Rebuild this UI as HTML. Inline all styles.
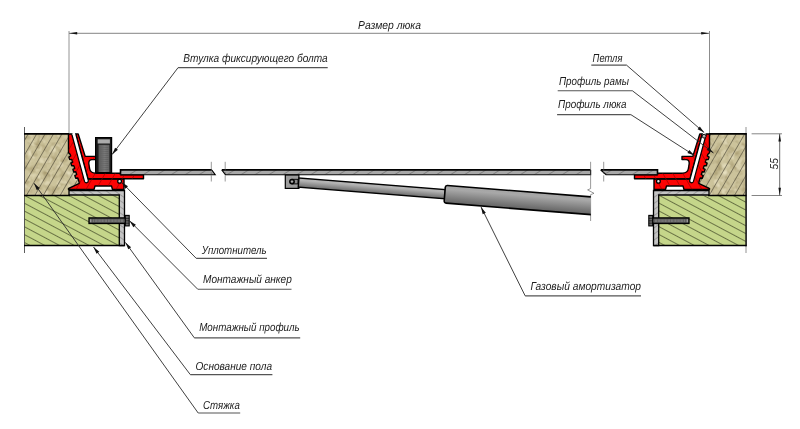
<!DOCTYPE html>
<html lang="ru"><head><meta charset="utf-8"><title>Люк — схема</title>
<style>
html,body{margin:0;padding:0;background:#fff;}
body{width:800px;height:429px;overflow:hidden;font-family:"Liberation Sans",sans-serif;}
svg{display:block;will-change:transform;opacity:0.999;}
</style></head><body>
<svg width="800" height="429" viewBox="0 0 800 429">
<defs>
<pattern id="hScreed" width="7.3" height="7.3" patternUnits="userSpaceOnUse" patternTransform="translate(35.5,135) rotate(30)">
<line x1="0" y1="-1" x2="0" y2="9" stroke="#2b281c" stroke-width="0.95"/>
</pattern>
<pattern id="hBase" width="6.93" height="6.93" patternUnits="userSpaceOnUse" patternTransform="translate(24.5,202.7) rotate(28)">
<line x1="-1" y1="0" x2="8" y2="0" stroke="#1e220c" stroke-width="1.1"/>
</pattern>
<pattern id="hGray" width="5" height="5" patternUnits="userSpaceOnUse" patternTransform="rotate(35)">
<line x1="-1" y1="0" x2="6" y2="0" stroke="#555" stroke-width="0.7"/>
</pattern>
<pattern id="hPlate" width="7.4" height="7.4" patternUnits="userSpaceOnUse" patternTransform="translate(3,0) rotate(58)">
<line x1="0" y1="-1" x2="0" y2="9" stroke="#3c3c3c" stroke-width="0.7"/>
</pattern>
<filter id="mottle" x="0" y="0" width="100%" height="100%">
<feTurbulence type="fractalNoise" baseFrequency="0.14" numOctaves="2" seed="7" result="n"/>
<feColorMatrix in="n" type="matrix" values="0 0 0 0 0  0 0 0 0 0  0 0 0 0 0  2.2 0 0 0 -0.95" result="a"/>
<feFlood flood-color="#a89b70" result="c"/>
<feComposite in="c" in2="a" operator="in" result="dark"/>
<feColorMatrix in="n" type="matrix" values="0 0 0 0 0  0 0 0 0 0  0 0 0 0 0  0 -2.4 0 0 1.15" result="b"/>
<feFlood flood-color="#ece5c6" result="c2"/>
<feComposite in="c2" in2="b" operator="in" result="light"/>
<feMerge result="m"><feMergeNode in="SourceGraphic"/><feMergeNode in="dark"/><feMergeNode in="light"/></feMerge>
<feComposite in="m" in2="SourceAlpha" operator="in"/>
</filter>
<linearGradient id="gRod" gradientUnits="userSpaceOnUse" x1="0" y1="-4.5" x2="0" y2="4.5">
<stop offset="0" stop-color="#b2b2b2"/><stop offset="0.25" stop-color="#b4b4b4"/><stop offset="1" stop-color="#6c6c6c"/>
</linearGradient>
<linearGradient id="gCyl" gradientUnits="userSpaceOnUse" x1="0" y1="-9" x2="0" y2="9">
<stop offset="0" stop-color="#a4a4a4"/><stop offset="0.22" stop-color="#a8a8a8"/><stop offset="1" stop-color="#626262"/>
</linearGradient>
<linearGradient id="gThread" x1="0" y1="0" x2="1" y2="0">
<stop offset="0" stop-color="#5e5e5e"/><stop offset="0.55" stop-color="#7c7c7c"/><stop offset="1" stop-color="#646464"/>
</linearGradient>
<clipPath id="clipRedL">
<path d="M68.5,134 L78.6,134 L84.8,156.4 L95,156.4 L95,160 L88.3,160 L89.8,168 Q90.6,172.6 95,173 L120.5,173 L120.5,174.7 L143.5,174.7 L143.5,178.8 L124,179 L124,189.5 L112.5,189.5 L111.5,186 L95,186 L94,189.5 L68.5,189.5 L68.5,188.4 L79.4,183.4 L70.3,154.6 L68.5,152.8 Z"/>
</clipPath>
</defs>
<rect width="800" height="429" fill="#fff"/>


<!-- left screed -->
<polygon points="71,133.8 24.5,133.8 24.5,195.5 71,195.5 71,189.5 81,184.5 81,172 74,150" fill="#ccc39b" filter="url(#mottle)"/>
<polygon points="71,133.8 24.5,133.8 24.5,195.5 71,195.5 71,189.5 81,184.5 81,172 74,150" fill="url(#hScreed)"/>
<!-- left base -->
<rect x="24.5" y="195.3" width="95" height="50.2" fill="#c5d68a"/>
<rect x="24.5" y="195.3" width="95" height="50.2" fill="url(#hBase)"/>
<line x1="24.5" y1="127" x2="24.5" y2="253" stroke="#333" stroke-width="0.8"/>
<line x1="24" y1="133.8" x2="69" y2="133.8" stroke="#000" stroke-width="1.7"/>
<line x1="24" y1="195.5" x2="70" y2="195.5" stroke="#000" stroke-width="1.4"/>
<line x1="24" y1="245.5" x2="124.5" y2="245.5" stroke="#000" stroke-width="1.5"/>
<!-- mounting profile -->
<path d="M69,190.5 L124.5,190.5 L124.5,245.5 L119.3,245.5 L119.3,195 L69,195 Z" fill="#c4c4c4" stroke="none"/>
<path d="M69,190.5 L124.5,190.5 L124.5,245.5 L119.3,245.5 L119.3,195 L69,195 Z" fill="url(#hGray)" stroke="#000" stroke-width="1.3"/>


<!-- frame profile (outer) -->
<path d="M68.5,134 L75,134 L88,179 L124,179 L124,189.5 L112.5,189.5 L111.5,186 L95,186 L94,189.5 L68.5,189.5 L68.5,188.4 L69.2,188.2 L79.4,183.4 L78.6,180.3 L77.8,178.0 L75.7,178.2 L74.8,175.6 L76.7,174.5 L75.8,171.8 L73.7,172.0 L72.9,169.4 L74.7,168.3 L73.8,165.6 L71.7,165.8 L70.9,163.2 L72.7,162.1 L71.9,159.5 L69.7,159.6 L68.9,157.1 L70.7,155.9 L70.3,154.6 L68.5,152.8 Z" fill="#fc0404" stroke="#000" stroke-width="1.4" stroke-linejoin="round"/>
<!-- hatch profile (inner) -->
<path d="M75.77,134 L78.2,134 L85.2,156.4 L96,156.4 L96,159.6 L92,159.6 Q88.6,159.6 88.8,163.5 L89.6,168.5 Q90.2,172.8 95.5,173.2 L120.5,173.2 L120.5,174.7 L143.5,174.7 L143.5,178.8 L87.98,178.8 Z" fill="#fc0404" stroke="#000" stroke-width="1.4" stroke-linejoin="round"/>
<!-- hatch lines on red -->
<g stroke="#8a0000" stroke-width="0.6" clip-path="url(#clipRedL)">
<path d="M60,200 L100,130 M70,200 L110,130 M80,200 L120,130 M90,200 L130,130 M100,200 L140,130 M110,200 L150,130 M120,200 L160,130 M50,200 L90,130 M40,200 L80,130"/>
</g>
<!-- gasket slot -->
<path d="M71.73,134.00 L84.52,181.41 A1.95,1.95 0 0 0 88.28,180.39 L75.77,134.00" fill="#fff" stroke="#000" stroke-width="1.2"/>
<rect x="72.45" y="132.8" width="2.6" height="1.9" fill="#fff"/>
<circle cx="119.6" cy="181.3" r="1.9" fill="#e8e8e8" stroke="#000" stroke-width="1.3"/>


<rect x="95.6" y="137.6" width="16" height="35" fill="#1a1a1a" stroke="#000" stroke-width="1.2"/>
<rect x="97.7" y="139.3" width="12.2" height="4.2" fill="#ababab"/>
<rect x="98.6" y="144.8" width="10.8" height="27.2" fill="url(#gThread)"/>
<g stroke="#555" stroke-width="0.5"><line x1="98.6" y1="146.0" x2="108.6" y2="145.5"/><line x1="98.6" y1="148.0" x2="108.6" y2="147.5"/><line x1="98.6" y1="150.0" x2="108.6" y2="149.5"/><line x1="98.6" y1="152.0" x2="108.6" y2="151.5"/><line x1="98.6" y1="154.0" x2="108.6" y2="153.5"/><line x1="98.6" y1="156.0" x2="108.6" y2="155.5"/><line x1="98.6" y1="158.0" x2="108.6" y2="157.5"/><line x1="98.6" y1="160.0" x2="108.6" y2="159.5"/><line x1="98.6" y1="162.0" x2="108.6" y2="161.5"/><line x1="98.6" y1="164.0" x2="108.6" y2="163.5"/><line x1="98.6" y1="166.0" x2="108.6" y2="165.5"/><line x1="98.6" y1="168.0" x2="108.6" y2="167.5"/><line x1="98.6" y1="170.0" x2="108.6" y2="169.5"/></g>

<rect x="89" y="217.9" width="36.4" height="5.6" fill="#4a4a4a" stroke="#000" stroke-width="1.3"/>
<rect x="92.5" y="219.3" width="32" height="2.8" fill="#8c8c8c"/>
<rect x="89.9" y="219.2" width="1.6" height="3" fill="#9a9a9a"/>
<g stroke="#3a3a3a" stroke-width="0.55"><line x1="93.0" y1="219.2" x2="93.0" y2="222.2"/><line x1="94.5" y1="219.2" x2="94.5" y2="222.2"/><line x1="95.9" y1="219.2" x2="95.9" y2="222.2"/><line x1="97.3" y1="219.2" x2="97.3" y2="222.2"/><line x1="98.8" y1="219.2" x2="98.8" y2="222.2"/><line x1="100.2" y1="219.2" x2="100.2" y2="222.2"/><line x1="101.7" y1="219.2" x2="101.7" y2="222.2"/><line x1="103.2" y1="219.2" x2="103.2" y2="222.2"/><line x1="104.6" y1="219.2" x2="104.6" y2="222.2"/><line x1="106.0" y1="219.2" x2="106.0" y2="222.2"/><line x1="107.5" y1="219.2" x2="107.5" y2="222.2"/><line x1="109.0" y1="219.2" x2="109.0" y2="222.2"/><line x1="110.4" y1="219.2" x2="110.4" y2="222.2"/><line x1="111.8" y1="219.2" x2="111.8" y2="222.2"/><line x1="113.3" y1="219.2" x2="113.3" y2="222.2"/><line x1="114.8" y1="219.2" x2="114.8" y2="222.2"/><line x1="116.2" y1="219.2" x2="116.2" y2="222.2"/><line x1="117.7" y1="219.2" x2="117.7" y2="222.2"/><line x1="119.1" y1="219.2" x2="119.1" y2="222.2"/><line x1="120.5" y1="219.2" x2="120.5" y2="222.2"/><line x1="122.0" y1="219.2" x2="122.0" y2="222.2"/><line x1="123.5" y1="219.2" x2="123.5" y2="222.2"/></g>
<rect x="125.3" y="215.4" width="3.9" height="10.5" fill="#6a6a6a" stroke="#000" stroke-width="1.1"/><path d="M125.3,218.4 H129.2 M125.3,220.8 H129.2 M125.3,223.2 H129.2" stroke="#000" stroke-width="0.6"/>


<!-- right screed -->
<polygon points="707,133.8 746.5,133.8 746.5,195.5 707,195.5 707,189.5 697,184.5 697,172 704,150" fill="#ccc39b" filter="url(#mottle)"/>
<polygon points="707,133.8 746.5,133.8 746.5,195.5 707,195.5 707,189.5 697,184.5 697,172 704,150" fill="url(#hScreed)"/>
<rect x="658" y="195.5" width="88" height="50" fill="#c5d68a"/>
<rect x="658" y="195.5" width="88" height="50" fill="url(#hBase)"/>
<line x1="746" y1="127" x2="746" y2="253" stroke="#777" stroke-width="0.8"/>
<line x1="746.1" y1="133" x2="746.1" y2="246.2" stroke="#000" stroke-width="1.3"/>
<line x1="709" y1="133.8" x2="746.5" y2="133.8" stroke="#000" stroke-width="1.7"/>
<line x1="708" y1="195.5" x2="746.5" y2="195.5" stroke="#000" stroke-width="1.4"/>
<line x1="653.5" y1="245.5" x2="746.5" y2="245.5" stroke="#000" stroke-width="1.5"/>
<g transform="translate(778,0) scale(-1,1)">
<path d="M69,190.5 L124.5,190.5 L124.5,245.5 L119.3,245.5 L119.3,195 L69,195 Z" fill="#c4c4c4" stroke="none"/>
<path d="M69,190.5 L124.5,190.5 L124.5,245.5 L119.3,245.5 L119.3,195 L69,195 Z" fill="url(#hGray)" stroke="#000" stroke-width="1.3"/>


<!-- frame profile (outer) -->
<path d="M68.5,134 L75,134 L88,179 L124,179 L124,189.5 L112.5,189.5 L111.5,186 L95,186 L94,189.5 L68.5,189.5 L68.5,188.4 L69.2,188.2 L79.4,183.4 L78.6,180.3 L77.8,178.0 L75.7,178.2 L74.8,175.6 L76.7,174.5 L75.8,171.8 L73.7,172.0 L72.9,169.4 L74.7,168.3 L73.8,165.6 L71.7,165.8 L70.9,163.2 L72.7,162.1 L71.9,159.5 L69.7,159.6 L68.9,157.1 L70.7,155.9 L70.3,154.6 L68.5,152.8 Z" fill="#fc0404" stroke="#000" stroke-width="1.4" stroke-linejoin="round"/>
<!-- hatch profile (inner) -->
<path d="M75.77,134 L78.2,134 L85.2,156.4 L96,156.4 L96,159.6 L92,159.6 Q88.6,159.6 88.8,163.5 L89.6,168.5 Q90.2,172.8 95.5,173.2 L120.5,173.2 L120.5,174.7 L143.5,174.7 L143.5,178.8 L87.98,178.8 Z" fill="#fc0404" stroke="#000" stroke-width="1.4" stroke-linejoin="round"/>
<!-- hatch lines on red -->
<g stroke="#8a0000" stroke-width="0.6" clip-path="url(#clipRedL)">
<path d="M60,200 L100,130 M70,200 L110,130 M80,200 L120,130 M90,200 L130,130 M100,200 L140,130 M110,200 L150,130 M120,200 L160,130 M50,200 L90,130 M40,200 L80,130"/>
</g>
<!-- gasket slot -->
<path d="M71.73,134.00 L84.52,181.41 A1.95,1.95 0 0 0 88.28,180.39 L75.77,134.00" fill="#fff" stroke="#000" stroke-width="1.2"/>
<rect x="72.45" y="132.8" width="2.6" height="1.9" fill="#fff"/>
<circle cx="119.6" cy="181.3" r="1.9" fill="#e8e8e8" stroke="#000" stroke-width="1.3"/>


<!-- hinge pin -->
<circle cx="73.9" cy="136.2" r="1.9" fill="#b4b4b4" stroke="#000" stroke-width="0.9"/>
<!-- anchor -->
<rect x="89" y="217.9" width="36.4" height="5.6" fill="#4a4a4a" stroke="#000" stroke-width="1.3"/>
<rect x="92.5" y="219.3" width="32" height="2.8" fill="#8c8c8c"/>
<rect x="89.9" y="219.2" width="1.6" height="3" fill="#9a9a9a"/>
<g stroke="#3a3a3a" stroke-width="0.55"><line x1="93.0" y1="219.2" x2="93.0" y2="222.2"/><line x1="94.5" y1="219.2" x2="94.5" y2="222.2"/><line x1="95.9" y1="219.2" x2="95.9" y2="222.2"/><line x1="97.3" y1="219.2" x2="97.3" y2="222.2"/><line x1="98.8" y1="219.2" x2="98.8" y2="222.2"/><line x1="100.2" y1="219.2" x2="100.2" y2="222.2"/><line x1="101.7" y1="219.2" x2="101.7" y2="222.2"/><line x1="103.2" y1="219.2" x2="103.2" y2="222.2"/><line x1="104.6" y1="219.2" x2="104.6" y2="222.2"/><line x1="106.0" y1="219.2" x2="106.0" y2="222.2"/><line x1="107.5" y1="219.2" x2="107.5" y2="222.2"/><line x1="109.0" y1="219.2" x2="109.0" y2="222.2"/><line x1="110.4" y1="219.2" x2="110.4" y2="222.2"/><line x1="111.8" y1="219.2" x2="111.8" y2="222.2"/><line x1="113.3" y1="219.2" x2="113.3" y2="222.2"/><line x1="114.8" y1="219.2" x2="114.8" y2="222.2"/><line x1="116.2" y1="219.2" x2="116.2" y2="222.2"/><line x1="117.7" y1="219.2" x2="117.7" y2="222.2"/><line x1="119.1" y1="219.2" x2="119.1" y2="222.2"/><line x1="120.5" y1="219.2" x2="120.5" y2="222.2"/><line x1="122.0" y1="219.2" x2="122.0" y2="222.2"/><line x1="123.5" y1="219.2" x2="123.5" y2="222.2"/></g>
<rect x="125.3" y="215.4" width="3.9" height="10.5" fill="#6a6a6a" stroke="#000" stroke-width="1.1"/><path d="M125.3,218.4 H129.2 M125.3,220.8 H129.2 M125.3,223.2 H129.2" stroke="#000" stroke-width="0.6"/>
</g>


<g>
<path d="M120.5,170 L211.8,170 L215.2,174.6 L120.5,174.6 Z" fill="#a8a8a8"/>
<path d="M221.8,170 L590.6,170 L590.6,174.6 L225.4,174.6 Z" fill="#a8a8a8"/>
<path d="M600.8,170 L657.5,170 L657.5,174.6 L606,174.6 Z" fill="#a8a8a8"/>
<g clip-path="url(#clipPlate)"><rect x="120" y="169" width="540" height="7" fill="url(#hPlate)"/></g>
<path d="M120.5,174.6 L120.5,169.9 L211.8,169.9 M221.8,169.9 L590.6,169.9 M600.8,169.9 L657.5,169.9 L657.5,174.6" fill="none" stroke="#000" stroke-width="1.6"/>
<path d="M120.5,174.7 L215.2,174.7 L211.8,170 M221.8,170 L225.4,174.7 L590.6,174.7 V170 M600.8,170 L606,174.7 L657.5,174.7" fill="none" stroke="#000" stroke-width="1.15"/>
</g>
<clipPath id="clipPlate"><path d="M120.5,170 L211.8,170 L215.2,174.6 L120.5,174.6 Z M221.8,170 L590.6,170 L590.6,174.6 L225.4,174.6 Z M600.8,170 L657.5,170 L657.5,174.6 L606,174.6 Z"/></clipPath>
<!-- break lines -->
<g stroke="#555" stroke-width="0.6" fill="none">
<path d="M211.3,161.8 V181.5" stroke-dasharray="9 1.5 1.5 1.5"/>
<path d="M225.2,161.8 V181.5" stroke-dasharray="9 1.5 1.5 1.5"/>
<path d="M590.6,161.8 V188.6 l-3,1.3 l6.4,3.4 l-3.4,1.4 V221"/>
<path d="M603.7,161.8 V181.5" stroke-dasharray="9 1.5 1.5 1.5"/>
</g>


<rect x="285.3" y="175" width="13.6" height="13.4" fill="#9c9c9c" stroke="#000" stroke-width="1.2"/>
<rect x="292" y="179.3" width="6" height="4.6" fill="#888" stroke="#000" stroke-width="0.9"/>
<circle cx="292" cy="181.6" r="2.2" fill="#8a8a8a" stroke="#000" stroke-width="1.5"/>
<circle cx="292" cy="181.6" r="0.7" fill="#ccc"/>
<g clip-path="url(#clipCyl)"><g transform="translate(298.6,182.5) rotate(4.545)">
<rect x="0" y="-4.6" width="147" height="9.2" fill="url(#gRod)" stroke="#000" stroke-width="1.4"/>
<path d="M148.6,-8.8 H300 V8.9 H148.6 Q146.6,8.9 146.6,6.9 V-6.8 Q146.6,-8.8 148.6,-8.8 Z" fill="url(#gCyl)"/>
<path d="M300,-8.8 H148.6 Q146.6,-8.8 146.6,-6.8 V6.9 Q146.6,8.9 148.6,8.9 H300" fill="none" stroke="#000" stroke-width="1.6"/>
</g></g>
<clipPath id="clipCyl"><rect x="280" y="150" width="310.8" height="90"/></clipPath>

<g font-family="'Liberation Sans', sans-serif" font-style="italic" fill="#1c1c1c" style="text-rendering:geometricPrecision">
<line x1="69" y1="31" x2="69" y2="133" stroke="#888" stroke-width="0.9"/>
<line x1="709.5" y1="31" x2="709.5" y2="133" stroke="#8c8c8c" stroke-width="1"/>
<line x1="69" y1="33.3" x2="709" y2="33.3" stroke="#777" stroke-width="0.9"/>
<polygon points="69.20,33.30 77.20,32.10 77.20,34.50" fill="#111"/>
<polygon points="709.20,33.30 701.20,34.50 701.20,32.10" fill="#111"/>
<text x="358.1" y="28.8" font-size="11.6" textLength="62.9" lengthAdjust="spacingAndGlyphs" text-anchor="start" >Размер люка</text>
<line x1="751.6" y1="133.8" x2="782" y2="133.8" stroke="#777" stroke-width="0.9"/>
<line x1="751.6" y1="195.5" x2="782" y2="195.5" stroke="#777" stroke-width="0.9"/>
<line x1="779.7" y1="133.8" x2="779.7" y2="195.5" stroke="#444" stroke-width="0.8"/>
<polygon points="779.70,134.00 781.00,141.50 778.40,141.50" fill="#111"/>
<polygon points="779.70,195.30 778.40,187.80 781.00,187.80" fill="#111"/>
<text transform="translate(778.2,169.4) rotate(-90)" font-size="11.6" textLength="11.2" lengthAdjust="spacingAndGlyphs">55</text>
<text x="183.2" y="61.9" font-size="11.6" textLength="144.5" lengthAdjust="spacingAndGlyphs" text-anchor="start" >Втулка фиксирующего болта</text><line x1="178.10" y1="67.60" x2="327.70" y2="67.60" stroke="#555" stroke-width="1.15"/><polyline points="178.10,67.60 112.10,154.50" fill="none" stroke="#2a2a2a" stroke-width="0.9"/><polygon points="112.10,154.50 115.12,147.63 117.91,149.75" fill="#111"/>
<text x="592.6" y="61.8" font-size="11.6" textLength="29.8" lengthAdjust="spacingAndGlyphs" text-anchor="start" >Петля</text><line x1="591.30" y1="65.10" x2="626.50" y2="65.10" stroke="#555" stroke-width="1.15"/><polyline points="626.50,65.10 704.20,132.60" fill="none" stroke="#2a2a2a" stroke-width="0.9"/><polygon points="704.20,132.60 697.54,129.13 699.84,126.49" fill="#111"/>
<text x="559.0" y="84.7" font-size="11.6" textLength="70.0" lengthAdjust="spacingAndGlyphs" text-anchor="start" >Профиль рамы</text><line x1="557.70" y1="90.70" x2="632.30" y2="90.70" stroke="#555" stroke-width="1.15"/><polyline points="632.30,90.70 713.50,153.00" fill="none" stroke="#2a2a2a" stroke-width="0.9"/><polygon points="713.50,153.00 706.64,149.94 708.77,147.17" fill="#111"/>
<text x="558.0" y="108.4" font-size="11.6" textLength="68.5" lengthAdjust="spacingAndGlyphs" text-anchor="start" >Профиль люка</text><line x1="557.10" y1="114.60" x2="630.80" y2="114.60" stroke="#555" stroke-width="1.15"/><polyline points="630.80,114.60 694.50,155.50" fill="none" stroke="#2a2a2a" stroke-width="0.9"/><polygon points="694.50,155.50 687.41,153.03 689.30,150.08" fill="#111"/>
<text x="201.8" y="254.2" font-size="11.6" textLength="64.9" lengthAdjust="spacingAndGlyphs" text-anchor="start" >Уплотнитель</text><line x1="196.20" y1="258.30" x2="267.00" y2="258.30" stroke="#555" stroke-width="1.15"/><polyline points="196.20,258.30 121.60,182.30" fill="none" stroke="#2a2a2a" stroke-width="0.9"/><polygon points="121.60,182.30 127.96,186.28 125.46,188.74" fill="#111"/>
<text x="203.0" y="283.0" font-size="11.6" textLength="88.8" lengthAdjust="spacingAndGlyphs" text-anchor="start" >Монтажный анкер</text><line x1="197.70" y1="289.20" x2="291.50" y2="289.20" stroke="#555" stroke-width="1.15"/><polyline points="197.70,289.20 129.50,220.80" fill="none" stroke="#2a2a2a" stroke-width="0.9"/><polygon points="129.50,220.80 135.89,224.73 133.42,227.21" fill="#111"/>
<text x="199.2" y="331.2" font-size="11.6" textLength="100.5" lengthAdjust="spacingAndGlyphs" text-anchor="start" >Монтажный профиль</text><line x1="194.30" y1="337.80" x2="300.20" y2="337.80" stroke="#555" stroke-width="1.15"/><polyline points="194.30,337.80 125.40,242.40" fill="none" stroke="#2a2a2a" stroke-width="0.9"/><polygon points="125.40,242.40 131.09,247.29 128.26,249.34" fill="#111"/>
<text x="195.5" y="370.0" font-size="11.6" textLength="76.5" lengthAdjust="spacingAndGlyphs" text-anchor="start" >Основание пола</text><line x1="190.30" y1="374.60" x2="272.40" y2="374.60" stroke="#555" stroke-width="1.15"/><polyline points="190.30,374.60 93.50,247.00" fill="none" stroke="#2a2a2a" stroke-width="0.9"/><polygon points="93.50,247.00 99.31,251.76 96.52,253.87" fill="#111"/>
<text x="203.0" y="408.5" font-size="11.6" textLength="36.8" lengthAdjust="spacingAndGlyphs" text-anchor="start" >Стяжка</text><line x1="198.20" y1="413.00" x2="240.20" y2="413.00" stroke="#555" stroke-width="1.15"/><polyline points="198.20,413.00 34.00,183.20" fill="none" stroke="#2a2a2a" stroke-width="0.9"/><polygon points="34.00,183.20 39.67,188.12 36.82,190.16" fill="#111"/>
<text x="530.4" y="289.5" font-size="11.6" textLength="110.6" lengthAdjust="spacingAndGlyphs" text-anchor="start" >Газовый амортизатор</text><line x1="525.15" y1="295.80" x2="641.00" y2="295.80" stroke="#555" stroke-width="1.15"/><polyline points="525.15,295.80 481.00,206.90" fill="none" stroke="#2a2a2a" stroke-width="0.9"/><polygon points="481.00,206.90 485.81,212.66 482.68,214.22" fill="#111"/>
</g>
</svg>
</body></html>
